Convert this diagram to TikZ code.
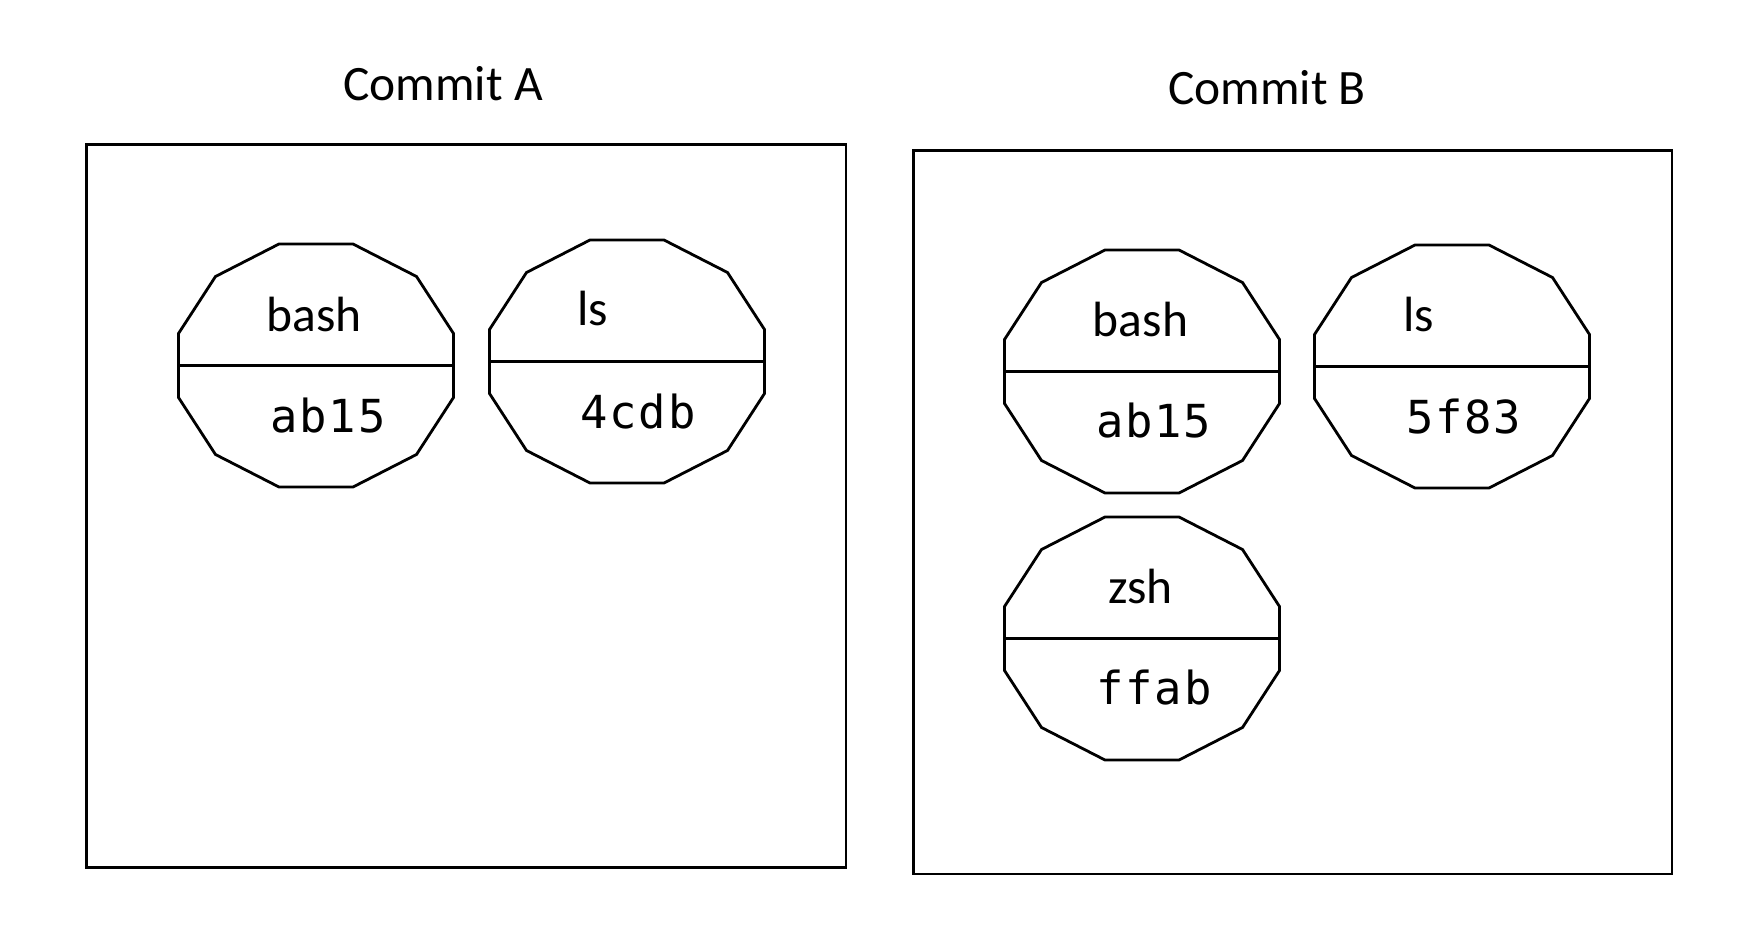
\documentclass[tikz,border=0pt]{standalone}
\usepackage{fontspec}
\setmainfont{Carlito}
\newfontfamily\monof[LetterSpace=4]{DejaVu Sans Mono}
\begin{document}
\begin{tikzpicture}[x=1pt,y=-1pt,
  frame/.style={draw=black,line width=2.9pt},
  poly/.style={draw=black,line width=2.8pt,line join=miter},
  title/.style={font=\fontsize{49.5}{58}\selectfont,anchor=base,inner sep=0pt},
  lbl/.style={font=\fontsize{49.5}{58}\selectfont,anchor=base,inner sep=0pt},
  hash/.style={font=\monof\fontsize{45.5}{54}\selectfont,anchor=base,inner sep=0pt},
  dodeca/.pic={
    \draw[poly] (137.5,-32) -- (100.5,-89) -- (37,-121.5) -- (-37,-121.5) -- (-100.5,-89) -- (-137.5,-32)
      -- (-137.5,32) -- (-100.5,89) -- (-37,121.5) -- (37,121.5) -- (100.5,89) -- (137.5,32) -- cycle;
    \draw[poly] (-137.5,0) -- (137.5,0);
  }]
\useasboundingbox (0,0) rectangle (1744,950);
% titles
\node[title] (tA) at (443,100) {Commit A};
\node[title] (tB) at (1267,104) {Commit B};
% frames
\draw[frame] (86.5,144.5) rectangle (846,867.5);
\draw[frame] (913.5,150.5) rectangle (1672,874);
% commit A
\coordinate (bashA) at (316,365.5);
\coordinate (lsA) at (627,361.5);
\pic at (bashA) {dodeca};
\pic at (lsA) {dodeca};
\node[lbl] (bashAt) at (314,331) {bash};
\node[hash] (bashAh) at (328,432.5) {ab15};
\node[lbl] (lsAt) at (592.5,325) {ls};
\node[hash] (lsAh) at (638,428.3) {4cdb};
% commit B
\coordinate (bashB) at (1142,371.5);
\coordinate (lsB) at (1452,366.5);
\coordinate (zshB) at (1142,638.5);
\pic at (bashB) {dodeca};
\pic at (lsB) {dodeca};
\pic at (zshB) {dodeca};
\node[lbl] (bashBt) at (1140.5,336) {bash};
\node[hash] (bashBh) at (1153.5,437.7) {ab15};
\node[lbl] (lsBt) at (1418.7,331) {ls};
\node[hash] (lsBh) at (1463.5,433.3) {5f83};
\node[lbl] (zshBt) at (1140.5,603) {zsh};
\node[hash] (zshBh) at (1154,704.6) {ffab};
\end{tikzpicture}
\end{document}
